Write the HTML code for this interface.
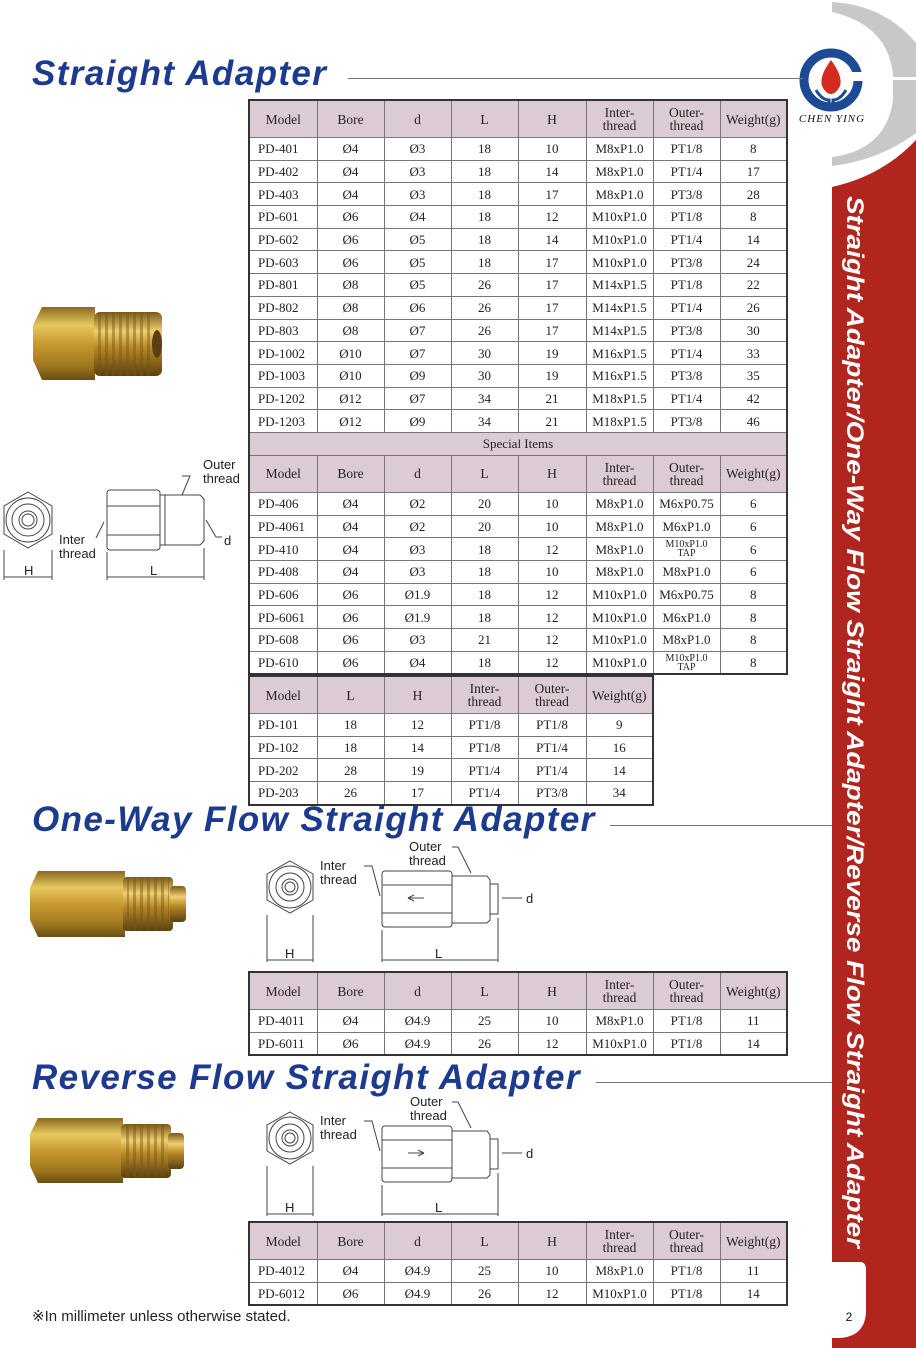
<!DOCTYPE html>
<html><head><meta charset="utf-8"><style>
body{margin:0;width:916px;height:1348px;position:relative;background:#fff;overflow:hidden;font-family:"Liberation Sans",sans-serif}
.t{position:absolute;left:248px;border-collapse:collapse;table-layout:fixed;border:2px solid #333;font-family:"Liberation Serif","DejaVu Serif",serif;font-size:13px;color:#222}
.t td{border:1px solid #777;text-align:center;padding:0;height:21.7px;line-height:13px;white-space:nowrap;overflow:hidden}
.t tr.h td{background:#dccbd4;height:36px;font-size:13.5px}
.t tr.s td{background:#dccbd4;height:22px}
.t td:first-child{text-align:left;padding-left:8px}
.t tr.h td:first-child{text-align:center;padding-left:0}
.sm{font-size:10px;line-height:9px;display:inline-block}
.title{position:absolute;left:32px;font-weight:bold;font-style:italic;color:#1c3a8e;font-size:35px;letter-spacing:1.4px;white-space:nowrap}
.ln{position:absolute;height:1px;background:#777}
</style></head><body>

<svg style="position:absolute;left:0;top:0" width="916" height="1348">
<defs><clipPath id="c"><rect x="832" y="0" width="84" height="1348"/></clipPath></defs>
<g clip-path="url(#c)">
<path fill-rule="evenodd" d="M832,2 Q884,5 916,43 L916,133 Q880,160 832,166 Z M832,12 Q888,25 893,75 L893,100 Q886,150 832,157 Z" fill="#c8c8c8"/>
<rect x="893" y="77" width="23" height="3" fill="#fff"/>
<path d="M832,187 Q882,176 916,140 L916,1348 L832,1348 Z" fill="#b0261e"/>
<path d="M832,1262 L860,1262 Q866,1262 866,1270 L866,1310 Q866,1336 840,1338 L832,1338 Z" fill="#fff"/>
</g>
<text x="0" y="0" transform="translate(847,196) rotate(90)" fill="#fff" font-family="Liberation Sans" font-weight="bold" font-style="italic" font-size="24" textLength="1052" lengthAdjust="spacingAndGlyphs">Straight Adapter/One-Way Flow Straight Adapter/Reverse Flow Straight Adapter</text>
<text x="849" y="1321" font-family="Liberation Sans" font-size="12" text-anchor="middle" fill="#111">2</text>
<circle cx="831" cy="80" r="27" fill="none" stroke="#1d4a94" stroke-width="9"/>
<rect x="838" y="72" width="30" height="9" fill="#fff"/>
<path d="M831,60 Q843,76 840,86 Q836,94 831,94 Q826,94 822,86 Q819,76 831,60 Z" fill="#d42a20"/>
<path d="M816,90 Q822,100 829,100 L829,108 M846,90 Q840,100 833,100 L833,108" stroke="#1d4a94" stroke-width="3" fill="none"/>
<text x="832" y="122" font-family="Liberation Serif" font-style="italic" font-size="11" text-anchor="middle" fill="#111" letter-spacing="1">CHEN YING</text>
</svg>

<div class="title" style="top:54px">Straight Adapter</div>
<div class="ln" style="left:348px;top:78px;width:455px"></div>
<div class="title" style="top:800px">One-Way Flow Straight Adapter</div>
<div class="ln" style="left:610px;top:825px;width:222px"></div>
<div class="title" style="top:1058px">Reverse Flow Straight Adapter</div>
<div class="ln" style="left:596px;top:1082px;width:236px"></div>

<table class="t" style="top:99px;width:540px">
<colgroup><col style="width:68px"><col style="width:67px"><col style="width:67px"><col style="width:67px"><col style="width:68px"><col style="width:67px"><col style="width:67px"><col style="width:67px"></colgroup>
<tr class="h"><td>Model</td><td>Bore</td><td>d</td><td>L</td><td>H</td><td>Inter-<br>thread</td><td>Outer-<br>thread</td><td>Weight(g)</td></tr>
<tr><td>PD-401</td><td>Ø4</td><td>Ø3</td><td>18</td><td>10</td><td>M8xP1.0</td><td>PT1/8</td><td>8</td></tr>
<tr><td>PD-402</td><td>Ø4</td><td>Ø3</td><td>18</td><td>14</td><td>M8xP1.0</td><td>PT1/4</td><td>17</td></tr>
<tr><td>PD-403</td><td>Ø4</td><td>Ø3</td><td>18</td><td>17</td><td>M8xP1.0</td><td>PT3/8</td><td>28</td></tr>
<tr><td>PD-601</td><td>Ø6</td><td>Ø4</td><td>18</td><td>12</td><td>M10xP1.0</td><td>PT1/8</td><td>8</td></tr>
<tr><td>PD-602</td><td>Ø6</td><td>Ø5</td><td>18</td><td>14</td><td>M10xP1.0</td><td>PT1/4</td><td>14</td></tr>
<tr><td>PD-603</td><td>Ø6</td><td>Ø5</td><td>18</td><td>17</td><td>M10xP1.0</td><td>PT3/8</td><td>24</td></tr>
<tr><td>PD-801</td><td>Ø8</td><td>Ø5</td><td>26</td><td>17</td><td>M14xP1.5</td><td>PT1/8</td><td>22</td></tr>
<tr><td>PD-802</td><td>Ø8</td><td>Ø6</td><td>26</td><td>17</td><td>M14xP1.5</td><td>PT1/4</td><td>26</td></tr>
<tr><td>PD-803</td><td>Ø8</td><td>Ø7</td><td>26</td><td>17</td><td>M14xP1.5</td><td>PT3/8</td><td>30</td></tr>
<tr><td>PD-1002</td><td>Ø10</td><td>Ø7</td><td>30</td><td>19</td><td>M16xP1.5</td><td>PT1/4</td><td>33</td></tr>
<tr><td>PD-1003</td><td>Ø10</td><td>Ø9</td><td>30</td><td>19</td><td>M16xP1.5</td><td>PT3/8</td><td>35</td></tr>
<tr><td>PD-1202</td><td>Ø12</td><td>Ø7</td><td>34</td><td>21</td><td>M18xP1.5</td><td>PT1/4</td><td>42</td></tr>
<tr><td>PD-1203</td><td>Ø12</td><td>Ø9</td><td>34</td><td>21</td><td>M18xP1.5</td><td>PT3/8</td><td>46</td></tr>
<tr class="s"><td colspan="8" style="text-align:center;padding:0">Special Items</td></tr>
<tr class="h"><td>Model</td><td>Bore</td><td>d</td><td>L</td><td>H</td><td>Inter-<br>thread</td><td>Outer-<br>thread</td><td>Weight(g)</td></tr>
<tr><td>PD-406</td><td>Ø4</td><td>Ø2</td><td>20</td><td>10</td><td>M8xP1.0</td><td>M6xP0.75</td><td>6</td></tr>
<tr><td>PD-4061</td><td>Ø4</td><td>Ø2</td><td>20</td><td>10</td><td>M8xP1.0</td><td>M6xP1.0</td><td>6</td></tr>
<tr><td>PD-410</td><td>Ø4</td><td>Ø3</td><td>18</td><td>12</td><td>M8xP1.0</td><td><span class="sm">M10xP1.0<br>TAP</span></td><td>6</td></tr>
<tr><td>PD-408</td><td>Ø4</td><td>Ø3</td><td>18</td><td>10</td><td>M8xP1.0</td><td>M8xP1.0</td><td>6</td></tr>
<tr><td>PD-606</td><td>Ø6</td><td>Ø1.9</td><td>18</td><td>12</td><td>M10xP1.0</td><td>M6xP0.75</td><td>8</td></tr>
<tr><td>PD-6061</td><td>Ø6</td><td>Ø1.9</td><td>18</td><td>12</td><td>M10xP1.0</td><td>M6xP1.0</td><td>8</td></tr>
<tr><td>PD-608</td><td>Ø6</td><td>Ø3</td><td>21</td><td>12</td><td>M10xP1.0</td><td>M8xP1.0</td><td>8</td></tr>
<tr><td>PD-610</td><td>Ø6</td><td>Ø4</td><td>18</td><td>12</td><td>M10xP1.0</td><td><span class="sm">M10xP1.0<br>TAP</span></td><td>8</td></tr>
</table>

<table class="t" style="top:675px;width:406px">
<colgroup><col style="width:68px"><col style="width:67px"><col style="width:67px"><col style="width:67px"><col style="width:68px"><col style="width:67px"></colgroup>
<tr class="h"><td>Model</td><td>L</td><td>H</td><td>Inter-<br>thread</td><td>Outer-<br>thread</td><td>Weight(g)</td></tr>
<tr><td>PD-101</td><td>18</td><td>12</td><td>PT1/8</td><td>PT1/8</td><td>9</td></tr>
<tr><td>PD-102</td><td>18</td><td>14</td><td>PT1/8</td><td>PT1/4</td><td>16</td></tr>
<tr><td>PD-202</td><td>28</td><td>19</td><td>PT1/4</td><td>PT1/4</td><td>14</td></tr>
<tr><td>PD-203</td><td>26</td><td>17</td><td>PT1/4</td><td>PT3/8</td><td>34</td></tr>
</table>

<table class="t" style="top:971px;width:540px">
<colgroup><col style="width:68px"><col style="width:67px"><col style="width:67px"><col style="width:67px"><col style="width:68px"><col style="width:67px"><col style="width:67px"><col style="width:67px"></colgroup>
<tr class="h"><td>Model</td><td>Bore</td><td>d</td><td>L</td><td>H</td><td>Inter-<br>thread</td><td>Outer-<br>thread</td><td>Weight(g)</td></tr>
<tr><td>PD-4011</td><td>Ø4</td><td>Ø4.9</td><td>25</td><td>10</td><td>M8xP1.0</td><td>PT1/8</td><td>11</td></tr>
<tr><td>PD-6011</td><td>Ø6</td><td>Ø4.9</td><td>26</td><td>12</td><td>M10xP1.0</td><td>PT1/8</td><td>14</td></tr>
</table>

<table class="t" style="top:1221px;width:540px">
<colgroup><col style="width:68px"><col style="width:67px"><col style="width:67px"><col style="width:67px"><col style="width:68px"><col style="width:67px"><col style="width:67px"><col style="width:67px"></colgroup>
<tr class="h"><td>Model</td><td>Bore</td><td>d</td><td>L</td><td>H</td><td>Inter-<br>thread</td><td>Outer-<br>thread</td><td>Weight(g)</td></tr>
<tr><td>PD-4012</td><td>Ø4</td><td>Ø4.9</td><td>25</td><td>10</td><td>M8xP1.0</td><td>PT1/8</td><td>11</td></tr>
<tr><td>PD-6012</td><td>Ø6</td><td>Ø4.9</td><td>26</td><td>12</td><td>M10xP1.0</td><td>PT1/8</td><td>14</td></tr>
</table>

<div style="position:absolute;left:32px;top:1307px;font-size:15px;color:#222">※In millimeter unless otherwise stated.</div>

<svg style="position:absolute;left:0;top:0" width="830" height="1348" font-family="Liberation Sans" font-size="13" fill="#222">
<defs>
<linearGradient id="b" x1="0" y1="0" x2="0" y2="1"><stop offset="0" stop-color="#8a6a1c"/><stop offset="0.25" stop-color="#e8c860"/><stop offset="0.5" stop-color="#c89a30"/><stop offset="0.8" stop-color="#a07820"/><stop offset="1" stop-color="#6a4e12"/></linearGradient>
<linearGradient id="b2" x1="0" y1="0" x2="0" y2="1"><stop offset="0" stop-color="#7a5a18"/><stop offset="0.3" stop-color="#f0d070"/><stop offset="0.55" stop-color="#b88a28"/><stop offset="1" stop-color="#5a4010"/></linearGradient>
<pattern id="th" width="7" height="10" patternUnits="userSpaceOnUse"><rect width="3" height="10" fill="#7a5414" opacity="0.45"/></pattern>
</defs>
<path d="M42,307 L95,307 L95,380 L42,380 L33,360 L33,325 Z" fill="url(#b)"/>
<rect x="94" y="312" width="68" height="64" rx="6" fill="url(#b2)"/>
<rect x="98" y="312" width="56" height="64" fill="url(#th)"/>
<ellipse cx="157" cy="344" rx="5" ry="14" fill="#5a4010"/>
<path d="M38,871 L125,871 L125,937 L38,937 L30,920 L30,888 Z" fill="url(#b)"/>
<rect x="123" y="877" width="50" height="54" rx="4" fill="url(#b2)"/>
<rect x="127" y="877" width="42" height="54" fill="url(#th)"/>
<rect x="170" y="886" width="16" height="36" rx="4" fill="url(#b2)"/>
<path d="M38,1118 L123,1118 L123,1183 L38,1183 L30,1166 L30,1134 Z" fill="url(#b)"/>
<rect x="121" y="1124" width="50" height="54" rx="4" fill="url(#b2)"/>
<rect x="125" y="1124" width="42" height="54" fill="url(#th)"/>
<rect x="168" y="1133" width="16" height="36" rx="4" fill="url(#b2)"/>

<g stroke="#444" fill="none" stroke-width="1">
<polygon points="28,492 52,506 52,534 28,548 4,534 4,506"/>
<circle cx="28" cy="520" r="22"/><circle cx="28" cy="520" r="16"/><circle cx="28" cy="520" r="9"/><circle cx="28" cy="520" r="6"/>
<line x1="4" y1="550" x2="4" y2="580"/><line x1="52" y1="550" x2="52" y2="580"/><line x1="4" y1="577" x2="52" y2="577"/>
<rect x="107" y="490" width="53" height="60" rx="3"/><line x1="107" y1="506" x2="160" y2="506"/><line x1="107" y1="535" x2="160" y2="535"/>
<path d="M160,495 L200,495 L204,499 L204,541 L200,545 L160,545"/><line x1="165" y1="495" x2="165" y2="545"/>
<line x1="107" y1="552" x2="107" y2="580"/><line x1="204" y1="548" x2="204" y2="580"/><line x1="107" y1="577" x2="204" y2="577"/>
<path d="M182,476 L190,476 L182,495"/><path d="M206,520 L216,537 L222,537"/><path d="M96,538 L104,522"/>
<polygon points="290,861 313,874 313,900 290,913 267,900 267,874"/>
<circle cx="290" cy="887" r="21"/><circle cx="290" cy="887" r="14"/><circle cx="290" cy="887" r="8"/><circle cx="290" cy="887" r="5"/>
<line x1="267" y1="915" x2="267" y2="962"/><line x1="313" y1="915" x2="313" y2="962"/><line x1="267" y1="960" x2="313" y2="960"/>
<rect x="382" y="871" width="70" height="56" rx="3"/><line x1="382" y1="885" x2="452" y2="885"/><line x1="382" y1="913" x2="452" y2="913"/>
<path d="M452,876 L487,876 L490,880 L490,920 L487,923 L452,923"/><rect x="490" y="884" width="8" height="30"/>
<line x1="382" y1="930" x2="382" y2="962"/><line x1="498" y1="918" x2="498" y2="962"/><line x1="382" y1="960" x2="498" y2="960"/>
<path d="M364,866 L372,866 L380,896"/><path d="M452,847 L458,847 L471,873"/><line x1="502" y1="898" x2="522" y2="898"/>
<path d="M408,898 L424,898 M408,898 L414,895 M408,898 L414,901"/>
<polygon points="290,1112 313,1125 313,1151 290,1164 267,1151 267,1125"/>
<circle cx="290" cy="1138" r="21"/><circle cx="290" cy="1138" r="14"/><circle cx="290" cy="1138" r="8"/><circle cx="290" cy="1138" r="5"/>
<line x1="267" y1="1166" x2="267" y2="1216"/><line x1="313" y1="1166" x2="313" y2="1216"/><line x1="267" y1="1214" x2="313" y2="1214"/>
<rect x="382" y="1126" width="70" height="56" rx="3"/><line x1="382" y1="1140" x2="452" y2="1140"/><line x1="382" y1="1168" x2="452" y2="1168"/>
<path d="M452,1131 L487,1131 L490,1135 L490,1175 L487,1178 L452,1178"/><rect x="490" y="1139" width="8" height="30"/>
<line x1="382" y1="1185" x2="382" y2="1216"/><line x1="498" y1="1173" x2="498" y2="1216"/><line x1="382" y1="1214" x2="498" y2="1214"/>
<path d="M364,1121 L372,1121 L380,1151"/><path d="M452,1102 L458,1102 L471,1128"/><line x1="502" y1="1153" x2="522" y2="1153"/>
<path d="M408,1153 L424,1153 M424,1153 L418,1150 M424,1153 L418,1156"/>
</g>
<g stroke="none">
<text x="203" y="469">Outer</text><text x="203" y="483">thread</text>
<text x="59" y="544">Inter</text><text x="59" y="558">thread</text>
<text x="224" y="545">d</text><text x="24" y="575">H</text><text x="150" y="575">L</text>
<text x="320" y="870">Inter</text><text x="320" y="884">thread</text>
<text x="409" y="851">Outer</text><text x="409" y="865">thread</text>
<text x="526" y="903">d</text><text x="285" y="958">H</text><text x="435" y="958">L</text>
<text x="320" y="1125">Inter</text><text x="320" y="1139">thread</text>
<text x="410" y="1106">Outer</text><text x="410" y="1120">thread</text>
<text x="526" y="1158">d</text><text x="285" y="1212">H</text><text x="435" y="1212">L</text>
</g>
</svg>
</body></html>
